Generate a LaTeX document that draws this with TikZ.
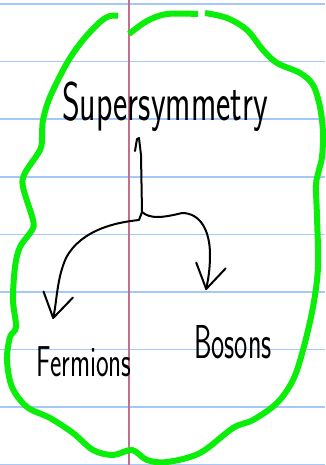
\documentclass[tikz,border=0pt]{standalone}
\usepackage{graphicx}
\usetikzlibrary{arrows.meta}

\definecolor{ruleblue}{RGB}{165,200,250}
\definecolor{marginred}{RGB}{192,112,140}
\definecolor{blobgreen}{RGB}{10,238,10}

\begin{document}
\begin{tikzpicture}[x=1pt,y=1pt,yscale=-1,xscale=1,
    ruled/.style={draw=ruleblue,line width=1.5pt},
    margin/.style={draw=marginred,line width=1.5pt},
    blob/.style={draw=blobgreen,line width=6pt,line join=round},
    pen/.style={draw=black,line width=2pt,line cap=round,line join=round},
    barb/.style={-{Straight Barb[length=#1,width=30pt,line cap=round,line join=round]}},
    hand/.style={inner sep=0pt,font=\sffamily\fontsize{#1}{#1}\selectfont}]
        \useasboundingbox (0,0) rectangle (325,465);
        \fill[white] (0,0) rectangle (325,465);
        
        % notebook paper
        \foreach \k in {0,...,8}
            \draw[ruled] (0,4+57.6*\k) -- (325,4+57.6*\k);
        \draw[margin] (129,0) -- (129,465);
        
        % green outline, long stroke
        \draw[blob] plot[smooth,tension=0.55] coordinates {
            (205,13) (227,18) (247,30) (263,50) (277,63) (300,73) (313,85)
            (320,107) (323,133) (322,157) (319,170) (316,185) (317,217)
            (318,267) (313,307) (303,350) (293,380) (277,403) (253,420)
            (233,428) (200,453) (167,462) (147,460) (132,450) (113,455)
            (93,450) (73,433) (50,418) (27,407) (12,387) (7,360) (10,337)
            (16,327) (13,300) (15,267) (20,247) (32,230) (33,220) (23,187)
            (25,173) (40,150) (42,137) (43,120) (50,97) (67,63) (83,40)
            (100,22) (110,16) (118,16)};
        % green outline, short stroke on top
        \draw[blob] plot[smooth,tension=0.55] coordinates {
            (129,34) (147,21) (167,14) (198,14)};
        
        % labels
        \node[hand=34,anchor=base] (susy) at (165,121) {\scalebox{1}[1.6]{Supersymmetry}};
        \node[hand=27,anchor=base] (fermions) at (84,376) {\scalebox{1}[1.6]{Fermions}};
        \node[hand=28,anchor=base] (bosons) at (233,358) {\scalebox{1}[1.7]{Bosons}};
        
        % tree
        \coordinate (stem) at (135,151);
        \coordinate (split) at (142,212);
        \coordinate (ftip) at (53,319);
        \coordinate (btip) at (206,290);
        \draw[pen] (stem) -- (137,139) -- (139,138) -- (141,155) -- (split);
        \draw[pen,barb=24pt] (split) -- (139,220) .. controls (120,222) and (82,228) .. (66,258) .. controls (57,278) and (57,300) .. (ftip);
        \draw[pen,barb=24pt] (split) .. controls (150,219) and (162,218) .. (182,213) .. controls (200,213) and (210,230) .. (210,255) .. controls (210,270) and (208,280) .. (btip);
        
\end{tikzpicture}
\end{document}
